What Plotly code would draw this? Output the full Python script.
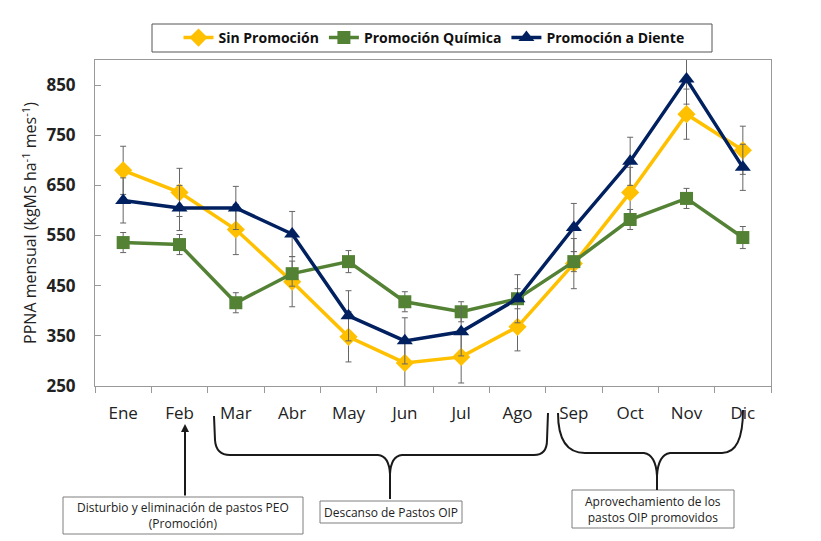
import plotly.graph_objects as go

months = ["Ene", "Feb", "Mar", "Abr", "May", "Jun", "Jul", "Ago", "Sep", "Oct", "Nov", "Dic"]
sin_prom = [680, 636, 562, 458, 348, 296, 308, 368, 494, 636, 792, 720]
sin_prom_err = [48, 48, 50, 50, 50, 48, 52, 48, 50, 50, 50, 48]
prom_quim = [536, 532, 416, 474, 498, 418, 398, 424, 498, 582, 624, 546]
prom_quim_err = [20, 20, 20, 25, 22, 20, 20, 20, 20, 20, 20, 22]
prom_diente = [620, 605, 605, 553, 390, 340, 358, 424, 566, 698, 862, 686]
prom_diente_err = [45, 45, 43, 45, 50, 46, 48, 48, 48, 48, 50, 46]
y_ticks = [250, 350, 450, 550, 650, 750, 850]

FONT = "Open Sans"
W, H = 821, 541
L, R, T, B = 95, 771, 60, 386


def px(x):
    return (x - L) / (R - L)


def py(y):
    return (B - y) / (B - T)


fig = go.Figure()
series = [
    ("Sin Promoción", sin_prom, sin_prom_err, "#FFC000", "diamond", 14),
    ("Promoción Química", prom_quim, prom_quim_err, "#548235", "square", 13),
    ("Promoción a Diente", prom_diente, prom_diente_err, "#002060", "triangle-up", 14),
]
for name, vals, err, col, sym, sz in series:
    fig.add_trace(go.Scatter(
        x=months, y=vals, name=name, mode="lines+markers",
        line=dict(color=col, width=3.5),
        marker=dict(symbol=sym, size=sz, color=col),
        error_y=dict(type="data", array=err, visible=True, color="#666666",
                     thickness=1, width=3),
    ))

shapes = []
line_style = dict(color="#1a1a1a", width=2)

# Bracket 1 (Mar - Ago)
b1 = (f"M {px(214)},{py(416)} L {px(215)},{py(440)} Q {px(216)},{py(455)} {px(230)},{py(455)} "
      f"L {px(378)},{py(455)} Q {px(389)},{py(456)} {px(390)},{py(474)} L {px(390)},{py(499)} "
      f"M {px(390)},{py(474)} Q {px(391)},{py(456)} {px(402)},{py(455)} "
      f"L {px(534)},{py(455)} Q {px(547)},{py(455)} {px(547)},{py(440)} L {px(548)},{py(413)}")
# Bracket 2 (Sep - Dic)
b2 = (f"M {px(558)},{py(413)} Q {px(558)},{py(453)} {px(585)},{py(453)} "
      f"L {px(644)},{py(453)} Q {px(656)},{py(455)} {px(657)},{py(476)} L {px(657)},{py(490)} "
      f"M {px(657)},{py(476)} Q {px(658)},{py(455)} {px(670)},{py(453)} "
      f"L {px(722)},{py(453)} Q {px(743)},{py(453)} {px(743)},{py(410)}")
for p in (b1, b2):
    shapes.append(dict(type="path", path=p, xref="paper", yref="paper",
                       line=line_style, layer="above"))

# Boxes
for x0, y0, x1, y1 in [(63, 497, 303, 534), (320, 501, 462, 523), (572, 490, 734, 528)]:
    shapes.append(dict(type="rect", xref="paper", yref="paper",
                       x0=px(x0), x1=px(x1), y0=py(y0), y1=py(y1),
                       line=dict(color="#7f7f7f", width=1), fillcolor="white",
                       layer="below"))

# Legend frame
shapes.append(dict(type="rect", xref="paper", yref="paper",
                   x0=px(152), x1=px(712), y0=py(24), y1=py(52),
                   line=dict(color="#555555", width=1), fillcolor="rgba(0,0,0,0)",
                   layer="below"))

annot_font = dict(family=FONT, size=12, color="#222")
annotations = [
    dict(x=px(185), y=py(424), ax=0, ay=73, xref="paper", yref="paper",
         axref="pixel", ayref="pixel", showarrow=True, arrowhead=2, arrowsize=0.8,
         arrowwidth=2, arrowcolor="#1a1a1a", text=""),
    dict(x=px(183), y=py(515.5), xref="paper", yref="paper", showarrow=False,
         xanchor="center", yanchor="middle",
         text="Disturbio y eliminación de pastos PEO<br>(Promoción)", font=annot_font),
    dict(x=px(391), y=py(512), xref="paper", yref="paper", showarrow=False,
         xanchor="center", yanchor="middle",
         text="Descanso de Pastos OIP", font=annot_font),
    dict(x=px(653), y=py(509), xref="paper", yref="paper", showarrow=False,
         xanchor="center", yanchor="middle",
         text="Aprovechamiento de los<br>pastos OIP promovidos", font=annot_font),
]

fig.update_layout(
    width=W, height=H,
    margin=dict(l=L, r=W - R, t=T, b=H - B, autoexpand=False),
    paper_bgcolor="white", plot_bgcolor="white",
    font=dict(family=FONT, color="#222"),
    showlegend=True,
    legend=dict(orientation="h", x=px(434), xanchor="center", y=py(38), yanchor="middle",
                borderwidth=0, bgcolor="rgba(0,0,0,0)",
                font=dict(family=FONT, size=14, color="#111", weight="bold"),
                itemwidth=30, tracegroupgap=0),
    xaxis=dict(type="category", range=[-0.5, 11.5], showline=True, mirror=True,
               linecolor="#999999", linewidth=1, ticks="outside", ticklen=6,
               tickcolor="#999999", tickson="boundaries", showgrid=False,
               tickfont=dict(family=FONT, size=17, color="#222"),
               ticklabelstandoff=12),
    yaxis=dict(range=[250, 900], tickvals=y_ticks, showline=True, mirror=True,
               linecolor="#999999", linewidth=1, ticks="inside", ticklen=6,
               tickcolor="#999999", showgrid=False, zeroline=False,
               tickfont=dict(family=FONT, size=17, color="#222", weight="bold"),
               ticklabelstandoff=15,
               title=dict(text="PPNA mensual (kgMS ha<sup>-1</sup> mes<sup>-1</sup>)",
                          font=dict(family=FONT, size=16, color="#222"), standoff=5)),
    shapes=shapes,
    annotations=annotations,
)

fig.write_html("out.html", config={"displayModeBar": False},
               post_script="document.body.style.margin='0px';document.body.style.padding='0px';")
